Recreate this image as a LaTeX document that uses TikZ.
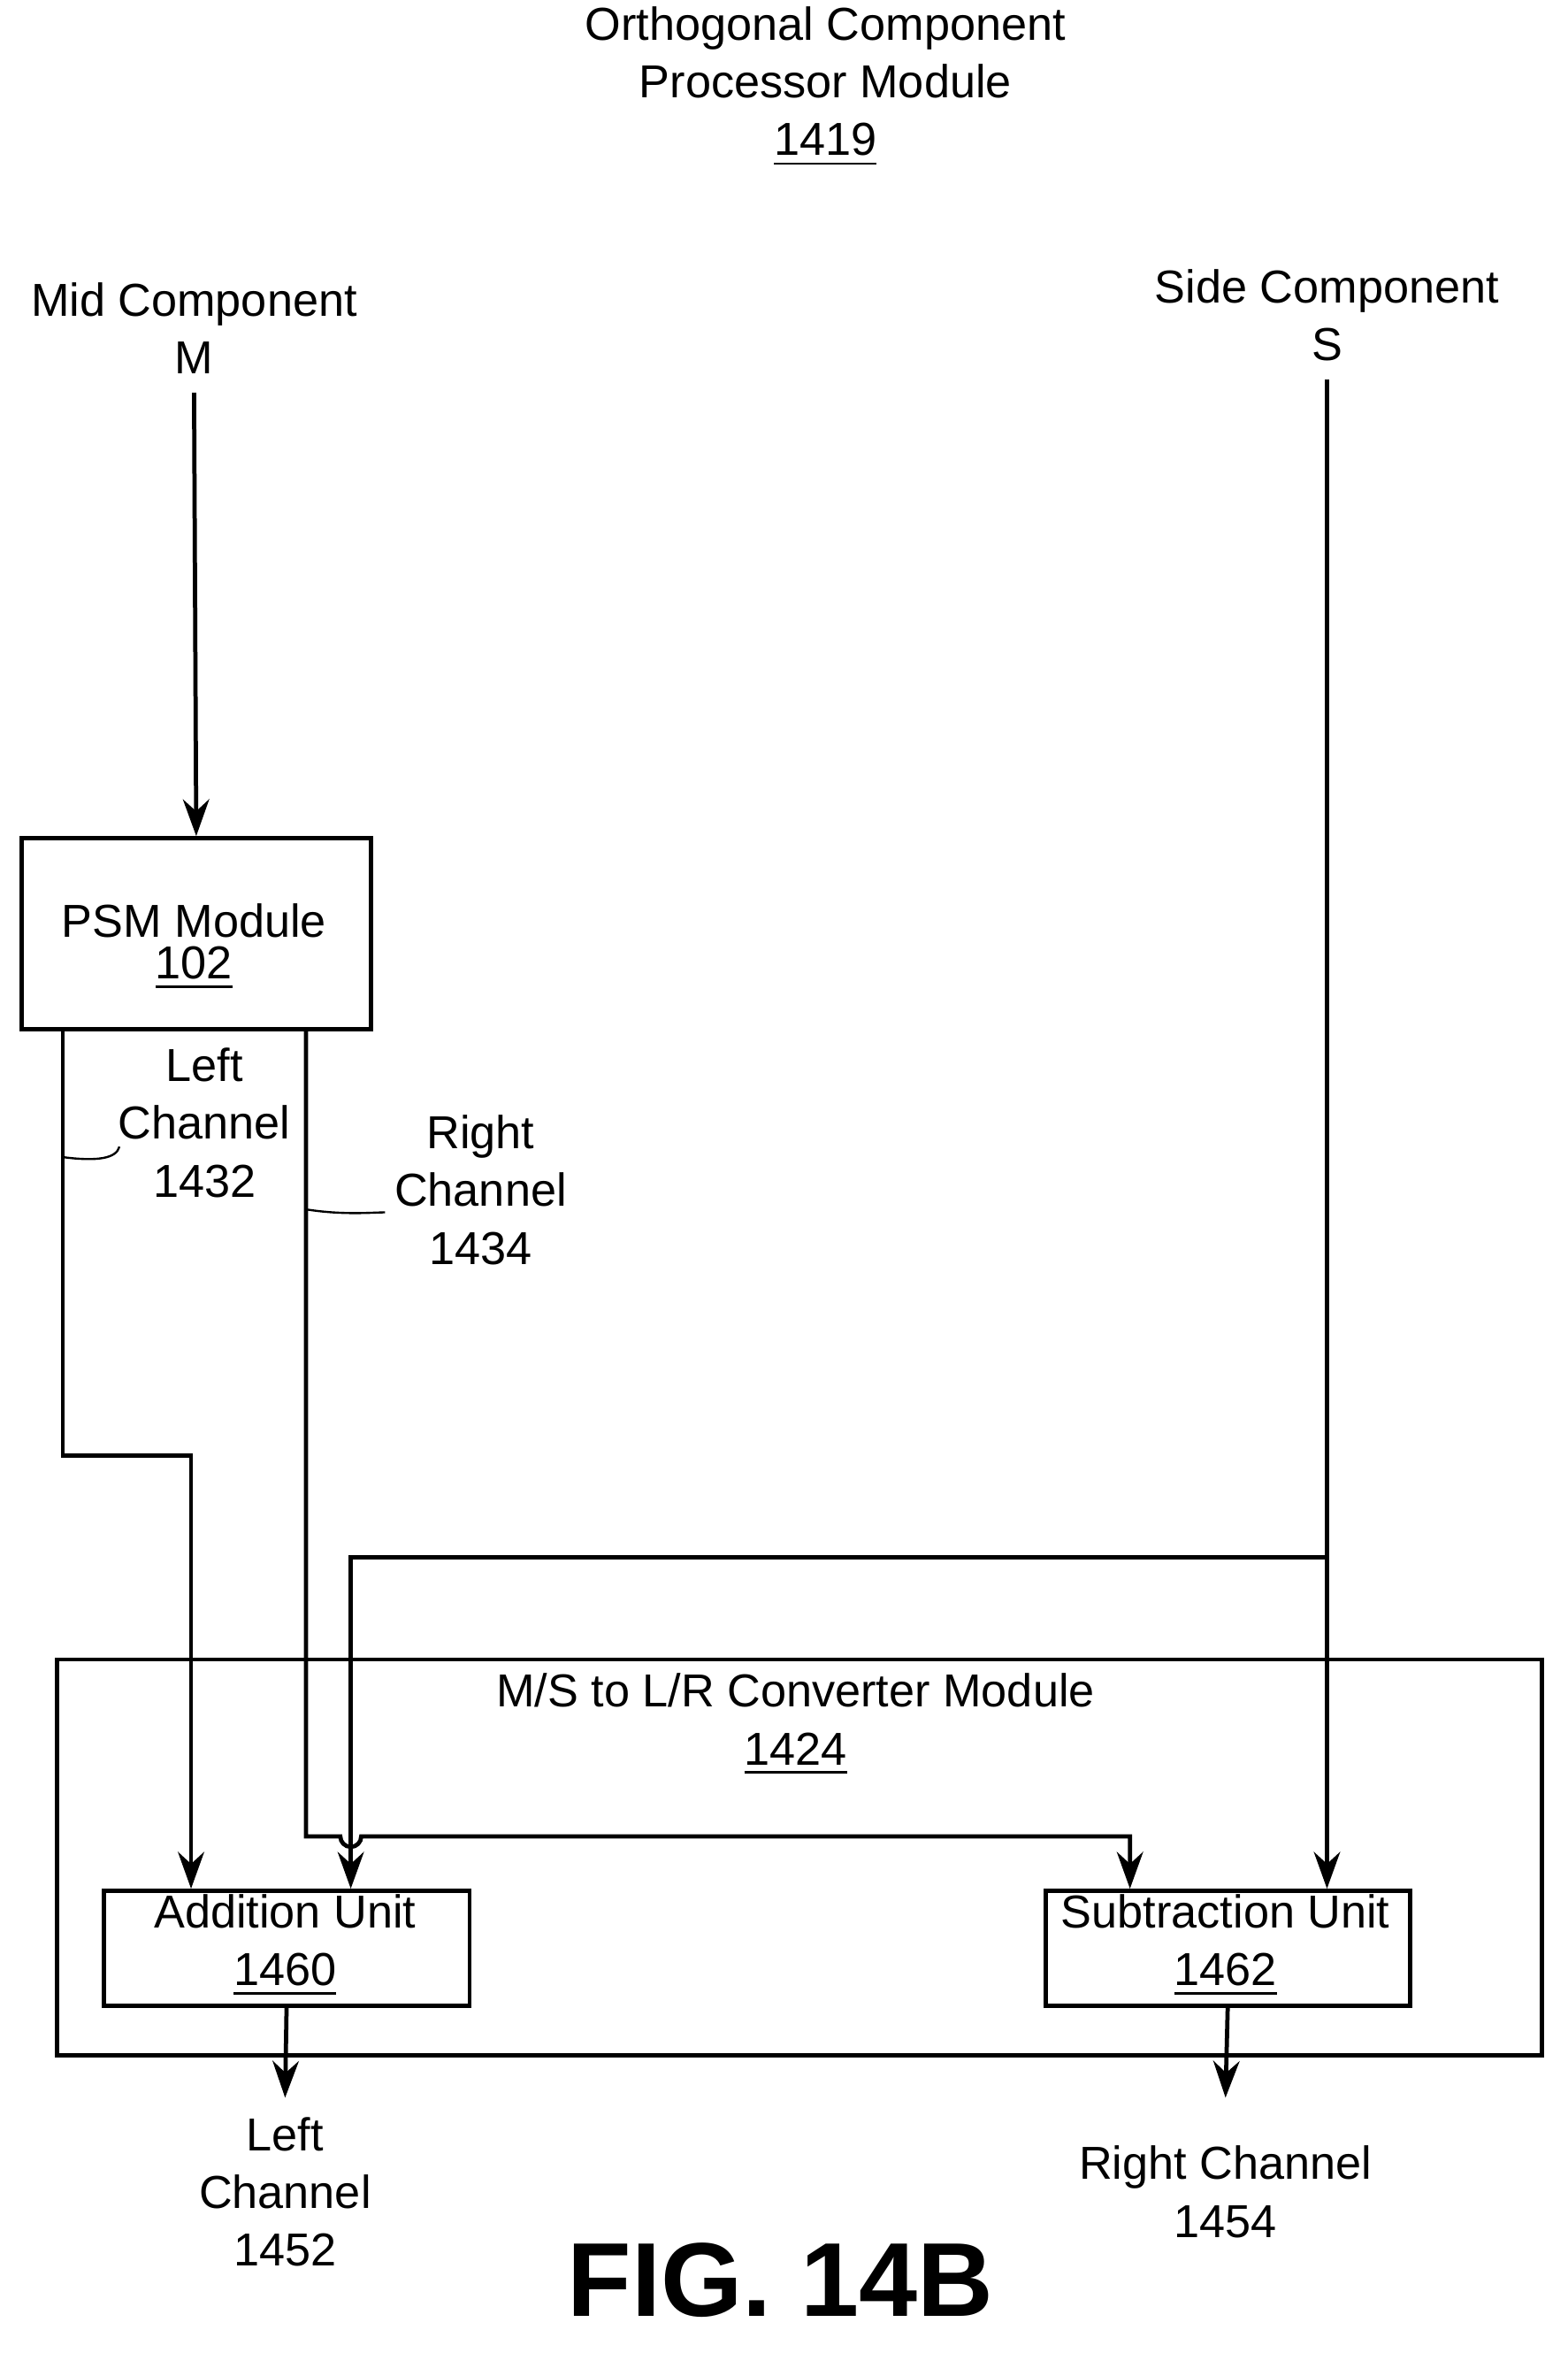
\documentclass[tikz,border=0pt]{standalone}
\usepackage{fontspec}
\setmainfont{Liberation Sans}
\usetikzlibrary{arrows.meta}
\tikzset{
  unit/.style={draw, thick, anchor=north west, inner sep=0pt},
  lbl/.style={font=\fontsize{8.8}{11}\selectfont, align=center},
  flow/.style={thick, -{Stealth[length=7pt,width=5pt]}},
  wire/.style={thick}
}
\begin{document}
\begin{tikzpicture}[x=0.01cm,y=-0.01cm]
		\useasboundingbox (0,0) rectangle (1050,1576);
		% title
		\node[lbl] (title) at (553,58) {Orthogonal Component\\Processor Module\\\underline{1419}};
		% inputs
		\node[lbl] (mid) at (130,220) {Mid Component\\M};
		\node[lbl] (side) at (889,211) {Side Component\\S};
		% PSM
		\node[unit, minimum width=2.34cm, minimum height=1.28cm] (psm) at (13,560) {};
		\node[lbl] (psmtxt) at (130,634) {PSM Module\\[-3pt]\underline{102}};
		\draw[flow] (mid.south) -- (psm.north);
		% converter module
		\node[unit, minimum width=9.94cm, minimum height=2.65cm] (conv) at (37,1110) {};
		\node[lbl] (convtxt) at (533,1155) {M/S to L/R Converter Module\\\underline{1424}};
		% units
		\node[unit, minimum width=2.45cm, minimum height=0.77cm] (add) at (68,1265) {};
		\node[lbl] (addtxt) at (191,1303) {Addition Unit\\\underline{1460}};
		\node[unit, minimum width=2.44cm, minimum height=0.77cm] (sub) at (699,1265) {};
		\node[lbl] (subtxt) at (821,1303) {Subtraction Unit\\\underline{1462}};
		\coordinate (addL) at (128,1265);
		\coordinate (addS) at (235,1265);
		\coordinate (subR) at (757,1265);
		\coordinate (subS) at (889,1265);
		% left channel
		\draw[flow] (42,688) -- (42,975) -- (128,975) -- (addL);
		\node[lbl] (lc) at (137,752) {Left\\Channel\\1432};
		\draw[thin] (42,775) .. controls (65,778) and (78,776) .. (80,768);
		% right channel with hop
		\draw[flow] (205,688) -- (205,1230) -- (228,1230) arc (180:0:7) -- (757,1230) -- (subR);
		\node[lbl] (rc) at (322,797) {Right\\Channel\\1434};
		\draw[thin] (205,810) .. controls (230,814) and (250,812) .. (258,812);
		% side component
		\draw[flow] (side.south) -- (subS);
		\draw[flow] (889,1043) -- (235,1043) -- (addS);
		% outputs
		\node[lbl] (lout) at (191,1468) {Left\\Channel\\1452};
		\node[lbl] (rout) at (821,1468) {Right Channel\\1454};
		\draw[flow] (add.south) -- (191,1405);
		\draw[flow] (sub.south) -- (821,1405);
		% figure label
		\node[font=\fontsize{20}{24}\selectfont\bfseries] (fig) at (523,1527) {FIG. 14B};
\end{tikzpicture}
\end{document}
